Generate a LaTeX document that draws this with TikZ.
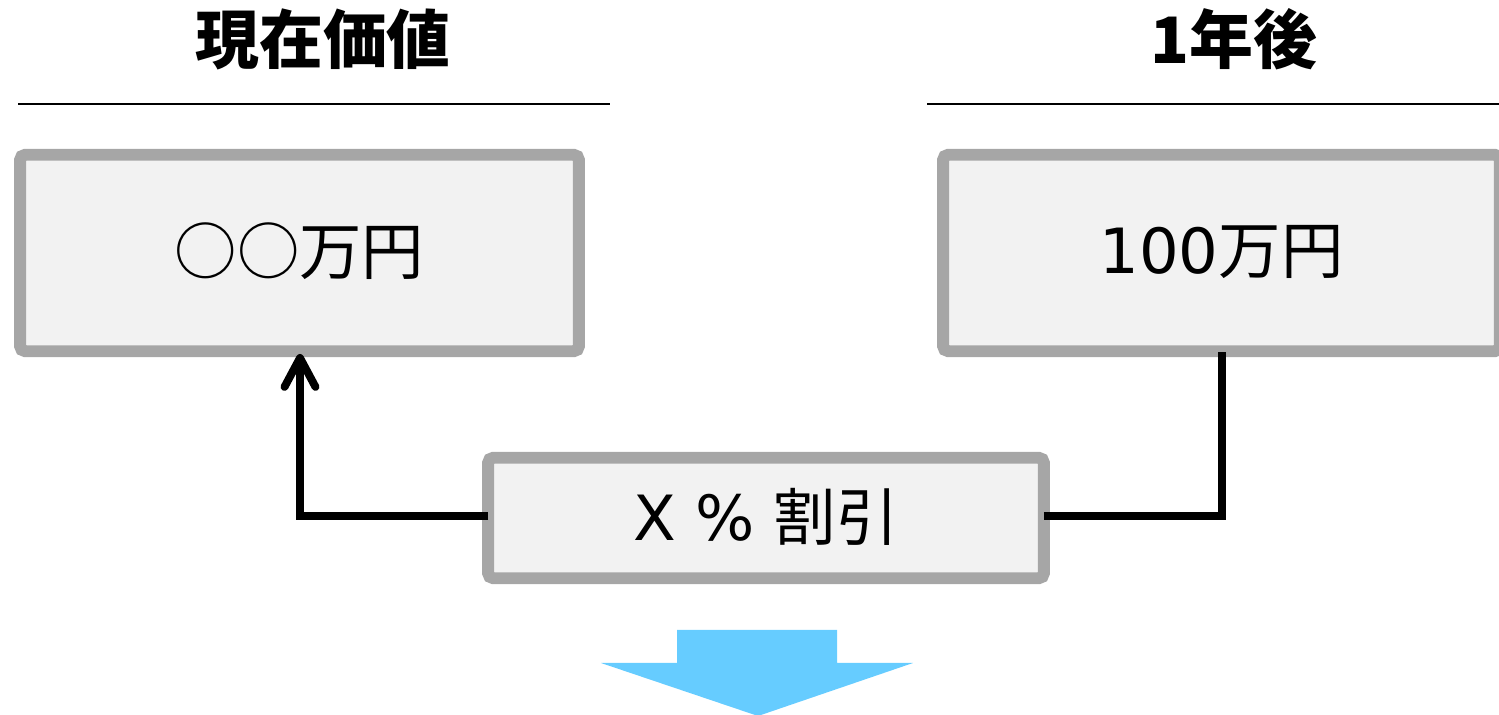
\documentclass[tikz,border=0pt]{standalone}
\usepackage{fontspec}
\newfontfamily\jp{Noto Sans CJK JP}
\newfontfamily\lat{DejaVu Sans}
\usetikzlibrary{arrows.meta}
\definecolor{boxgray}{HTML}{A6A6A6}
\definecolor{boxfill}{HTML}{F2F2F2}
\definecolor{arrowblue}{HTML}{66CCFF}
\newcommand{\up}[1]{\raisebox{0.16cm}{#1}}
\tikzset{
  valbox/.style={draw=boxgray, fill=boxfill, line width=6.8pt, rounded corners=3pt,
    outer sep=0pt, inner sep=0pt, font=\jp\fontsize{35.5}{40}\selectfont},
  title/.style={font=\jp\bfseries\fontsize{36.4}{40}\selectfont, inner sep=0pt},
  rule/.style={line width=1.2pt, black},
  conn/.style={line width=4.5pt, black, line join=miter},
}
\begin{document}
\begin{tikzpicture}[x=0.02cm, y=-0.02cm]
\useasboundingbox (0,0) rectangle (1499,715);
% titles
\node[title] (t1) at (323,39) {現在価値};
\node[title] (t2) at (1234,39) {1年後};
\coordinate (r1a) at (18,104); \coordinate (r1b) at (610,104);
\coordinate (r2a) at (927,104); \coordinate (r2b) at (1499,104);
\draw[rule] (r1a) -- (r1b);
\draw[rule] (r2a) -- (r2b);
% boxes
\node[valbox, minimum width=11.18cm, minimum height=3.93cm] (lbox) at (299.5,253) {\up{○○万円}};
\node[valbox, minimum width=11.14cm, minimum height=3.93cm] (rbox) at (1221.5,253) {\up{{\lat 100}万円}};
\node[valbox, minimum width=11.12cm, minimum height=2.41cm] (mid) at (766,518) {\up{{\lat X \%}\hspace{0.3em}割引}};
% connectors
\coordinate (ltip) at (300,354);
\coordinate (rend) at (1222,352);
\draw[conn, -{Straight Barb[length=0.58cm, width=0.62cm, line cap=round, line join=round]}]
  (mid.west |- 0,516) -| (ltip);
\draw[conn] (mid.east |- 0,516) -| (rend);
% blue arrow
\fill[arrowblue] (677,630) -- (837,630) -- (837,663) -- (913,663) -- (758,716)
  -- (601,663) -- (677,663) -- cycle;
\end{tikzpicture}
\end{document}
